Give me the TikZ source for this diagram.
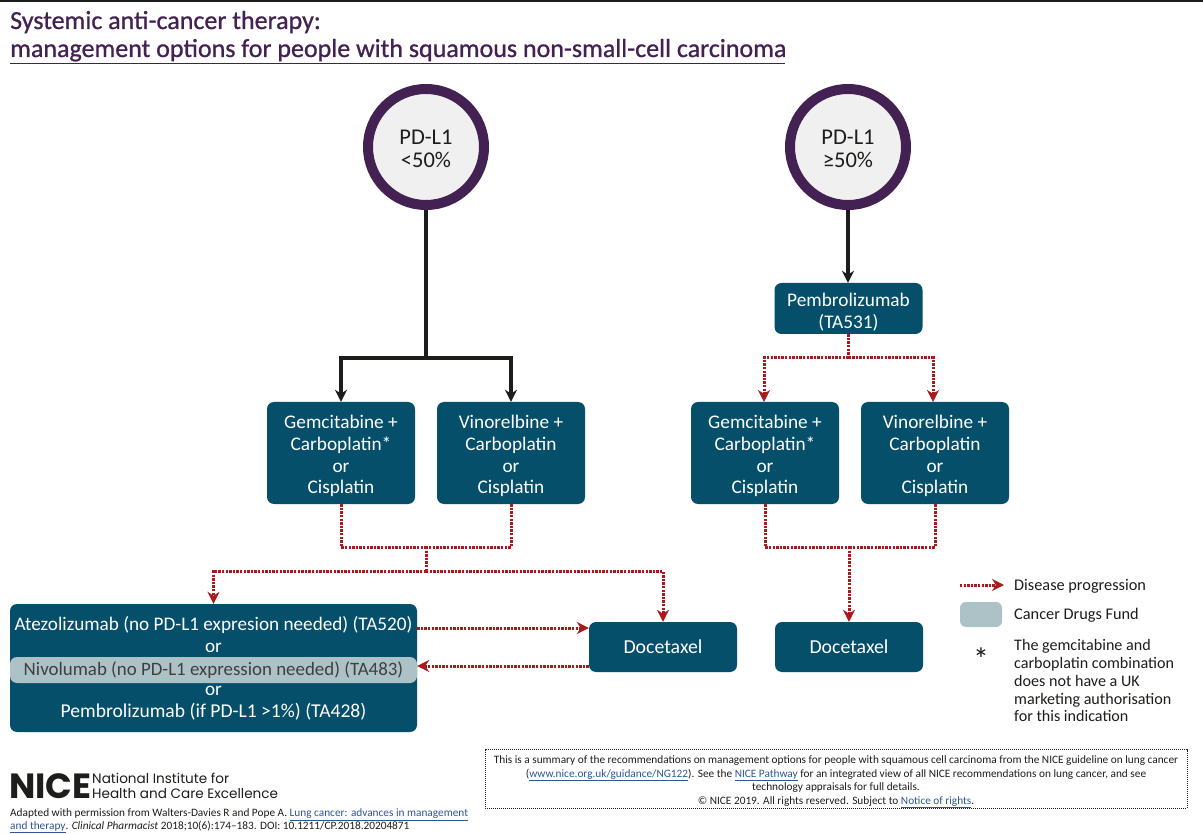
\documentclass[tikz,border=0pt]{standalone}
\usepackage{fontspec}
\setmainfont{Carlito}
\newfontfamily\logofont{Poppins}
\newfontfamily\titlefont[FakeBold=0.8]{Carlito}
\usetikzlibrary{arrows.meta}
\definecolor{teal}{HTML}{054F6B}
\definecolor{cdf}{HTML}{ADC2C7}
\definecolor{plum}{HTML}{432152}
\definecolor{prog}{HTML}{A81B1B}
\definecolor{ink}{HTML}{1D1D1B}
\definecolor{linkc}{HTML}{2F5597}
\newcommand{\lnk}[1]{{\color{linkc}\underline{#1}}}
\newcommand{\lift}{\rule{0pt}{20pt}}
\newcommand{\liftsm}{\rule{0pt}{13.5pt}}
\tikzset{
 x=1pt,y=-1pt,
 drug/.style={draw=none,fill=teal,rounded corners=7pt,text=white,align=center,font=\fontsize{19.3}{21.7}\selectfont,inner sep=0pt},
 immtext/.style={inner sep=0pt,text=white,font=\fontsize{19.2}{22}\selectfont},
 ring/.style={circle,draw=plum,line width=10pt,fill=black!6,minimum size=116pt,inner sep=0pt,align=center,text=ink,font=\fontsize{22.5}{23.5}\selectfont},
 solidarrow/.style={draw=ink,line width=3.2pt,-{Stealth[length=12pt,width=12pt]}},
 thickarrow/.style={draw=ink,line width=4pt,-{Stealth[length=12pt,width=12pt]}},
 solidline/.style={draw=ink,line width=4pt},
 progline/.style={draw=prog,line width=3pt,dash pattern=on 2.4pt off 1.2pt},
 progarrow/.style={progline,-{Stealth[length=12pt,width=12pt,color=prog]}},
 txt/.style={inner sep=0pt,anchor=base west,text=ink},
}
\begin{document}
\begin{tikzpicture}
\useasboundingbox (0,0) rectangle (1203,834);
\fill[white] (0,0) rectangle (1203,834);
\fill[ink] (0,0) rectangle (1203,2);
% title
\node[txt,text=plum,font=\titlefont\fontsize{26}{30}\selectfont] (t1) at (10,29) {Systemic anti-cancer therapy:};
\node[txt,text=plum,font=\titlefont\fontsize{26}{30}\selectfont] (t2) at (10,57) {management options for people with squamous non-small-cell carcinoma};
\draw[plum,line width=1pt] (10,64) -- (785,64);
% circles
\node[ring] (c1) at (426,147) {\rule{0pt}{18pt}PD-L1\\<50\%};
\node[ring] (c2) at (848,147) {\rule{0pt}{18pt}PD-L1\\≥50\%};
% boxes
\tikzset{bx/.style args={#1/#2}{drug,minimum width=#1pt,minimum height=#2pt}}
\node[bx=148/51] (pem) at (848.5,308.5) {\lift Pembrolizumab\\(TA531)};
\node[bx=148/102] (g1) at (341,453) {\lift Gemcitabine +\\Carboplatin*\\or\\Cisplatin};
\node[bx=148/102] (v1) at (511,453) {\lift Vinorelbine +\\Carboplatin\\or\\Cisplatin};
\node[bx=148/102] (g2) at (765,453) {\lift Gemcitabine +\\Carboplatin*\\or\\Cisplatin};
\node[bx=148/102] (v2) at (935,453) {\lift Vinorelbine +\\Carboplatin\\or\\Cisplatin};
\node[bx=407/128] (imm) at (213.5,668) {};
\node[drug,fill=cdf,minimum width=407pt,minimum height=26pt,text=ink!85,font=\fontsize{18.9}{22}\selectfont] (niv) at (213.5,670) {Nivolumab (no PD-L1 expression needed) (TA483)};
\node[immtext] (ate) at (213.5,625) {Atezolizumab (no PD-L1 expresion needed) (TA520)};
\node[immtext] (or1) at (213.5,648) {or};
\node[immtext] (or2) at (213.5,691) {or};
\node[immtext,font=\fontsize{19.6}{22}\selectfont] (pm) at (213.5,712) {Pembrolizumab (if PD-L1 >1\%) (TA428)};
\node[bx=148/50,font=\fontsize{19.8}{22}\selectfont] (d1) at (663,647) {Docetaxel};
\node[bx=148/50,font=\fontsize{19.8}{22}\selectfont] (d2) at (849,647) {Docetaxel};
% solid connectors
\coordinate (j1) at (c1|-0,358);
\draw[solidline] (c1.south) -- (j1);
\draw[solidarrow] (j1) -| (g1.north);
\draw[solidarrow] (j1) -| (v1.north);
\draw[thickarrow] (c2.south) -- (c2|-pem.north);
% progression connectors
\coordinate (j2) at (pem|-0,358);
\coordinate (a2) at (764,402);
\coordinate (b2) at (933,402);
\draw[progline] (pem.south) -- (j2);
\draw[progarrow] (j2) -| (a2);
\draw[progarrow] (j2) -| (b2);
\coordinate (j3) at (426,547);
\coordinate (j4) at (426,571);
\draw[progline] (g1.south) |- (j3);
\draw[progline] (v1.south) |- (j3);
\draw[progline] (j3) -- (j4);
\draw[progarrow] (j4) -| (imm.north);
\draw[progarrow] (j4) -| (d1.north);
\coordinate (j5) at (849,547);
\draw[progline] (g2.south) |- (j5);
\draw[progline] (v2.south) |- (j5);
\draw[progarrow] (j5) -- (d2.north);
\draw[progarrow] (imm.east|-0,628) -- (d1.west|-0,628);
\draw[progarrow] (d1.west|-0,666) -- (imm.east|-0,666);
% legend
\coordinate (la) at (960,585);\coordinate (lb) at (1004,585);
\draw[progarrow] (la) -- (lb);
\node[fill=cdf,rounded corners=6pt,minimum width=42pt,minimum height=25pt,inner sep=0pt] (sw) at (981,614.5) {};
\node[txt,font=\fontsize{16.3}{18}\selectfont] (l1) at (1014,590) {Disease progression};
\node[txt,font=\fontsize{16.3}{18}\selectfont] (l2) at (1014,619) {Cancer Drugs Fund};
\node[inner sep=0pt,font=\fontsize{32}{32}\selectfont,text=ink] (st) at (981,659) {*};
\node[inner sep=0pt,anchor=north west,align=left,text=ink,font=\fontsize{16.1}{17.9}\selectfont] (l3) at (1014,639) {The gemcitabine and\\carboplatin combination\\does not have a UK\\marketing authorisation\\for this indication};
% summary box
\node[draw=ink,densely dotted,line width=1pt,minimum width=702pt,minimum height=54pt,inner sep=0pt,align=center,text=ink,font=\fontsize{11.3}{13.4}\selectfont] (sum) at (836,779) {\rule{0pt}{14pt}This is a summary of the recommendations on management options for people with squamous cell carcinoma from the NICE guideline on lung cancer\\(\lnk{www.nice.org.uk/guidance/NG122}). See the \lnk{NICE Pathway} for an integrated view of all NICE recommendations on lung cancer, and see\\technology appraisals for full details.\\© NICE 2019. All rights reserved. Subject to \lnk{Notice of rights}.};
% logo
\node[txt,text depth=0pt,font=\logofont\bfseries\fontsize{35}{35}\selectfont,text=ink] (nice) at (9,798) {NICE};
\node[inner sep=0pt,anchor=north west,align=left,text=ink,font=\logofont\fontsize{13.6}{15.4}\selectfont] (nice2) at (92,773) {National Institute for\\Health and Care Excellence};
\node[inner sep=0pt,anchor=north west,align=left,text=ink,font=\fontsize{11.3}{12.8}\selectfont] (cite) at (10,808.5) {Adapted with permission from Walters-Davies R and Pope A. \lnk{Lung cancer: advances in management}\\\lnk{and therapy}. \textit{Clinical Pharmacist} 2018;10(6):174–183. DOI: 10.1211/CP.2018.20204871};
\end{tikzpicture}
\end{document}
